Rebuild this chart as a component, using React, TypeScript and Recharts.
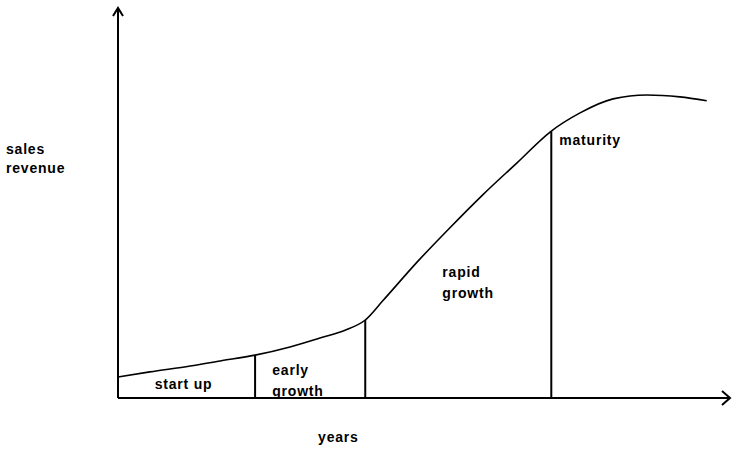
import { ComposedChart, Line, XAxis, YAxis, ReferenceLine, ReferenceDot } from "recharts";

// curve (years on x, revenue on y, both 0..100)
const years = [0, 5.2, 11.8, 16.7, 22.4, 28.1, 33.0, 37.1, 40.4, 43.3, 48.9, 54.2, 59.6, 65.2, 70.6, 75.5, 80.9, 86.4, 91.8, 96.2];
const revenue = [5.4, 6.7, 8.2, 9.5, 11.0, 13.1, 15.4, 17.4, 20.0, 25.0, 34.9, 43.6, 52.1, 60.3, 68.2, 73.1, 76.7, 77.7, 77.2, 76.2];

// stage boundaries (year, revenue where the line meets the curve)
const boundaryYears = [22.4, 40.4, 70.8];
const boundaryRevenue = [11.0, 20.0, 68.4];

// stage labels: text lines and anchor point
const stageLabels = [
  { lines: ["start up"], x: 6.0, y: 2.3 },
  { lines: ["early", "growth"], x: 25.2, y: 5.9 },
  { lines: ["rapid", "growth"], x: 53.0, y: 31.0 },
  { lines: ["maturity"], x: 72.1, y: 65.0 },
];

const data = years.map((y, i) => ({ year: y, revenue: revenue[i] }));

const font = {
  fontFamily: "Liberation Sans, Arial, sans-serif",
  fontWeight: 700,
  fontSize: 14,
  letterSpacing: 0.8,
  fill: "#000",
};

export default function App() {
  return (
    <div style={{ position: "absolute", left: 0, top: 0, background: "#fff" }}>
      <ComposedChart width={732} height={449} data={data} margin={{ top: 8, right: 2, left: 117, bottom: 50 }}>
        <XAxis
          type="number"
          dataKey="year"
          domain={[0, 100]}
          height={1}
          tick={false}
          tickLine={false}
          axisLine={false}
        />
        <YAxis
          type="number"
          domain={[0, 100]}
          width={1}
          tick={false}
          tickLine={false}
          axisLine={false}
        />
        {/* axis lines */}
        <ReferenceLine segment={[{ x: 0, y: 0 }, { x: 100, y: 0 }]} stroke="#000" strokeWidth={2} ifOverflow="visible" />
        <ReferenceLine segment={[{ x: 0, y: 0 }, { x: 0, y: 100 }]} stroke="#000" strokeWidth={2} ifOverflow="visible" />
        {boundaryYears.map((bx, i) => (
          <ReferenceLine
            key={bx}
            segment={[{ x: bx, y: 0 }, { x: bx, y: boundaryRevenue[i] }]}
            stroke="#000"
            strokeWidth={2}
          />
        ))}
        <Line
          type="monotone"
          dataKey="revenue"
          stroke="#000"
          strokeWidth={1.6}
          dot={false}
          isAnimationActive={false}
        />
        {stageLabels.map((s) => (
          <ReferenceDot
            key={s.lines[0]}
            x={s.x}
            y={s.y}
            r={0}
            ifOverflow="visible"
            shape={(p: any) => (
              <text x={p.cx} y={p.cy} {...font}>
                {s.lines.map((l, j) => (
                  <tspan key={l} x={p.cx} dy={j === 0 ? 0 : 21}>
                    {l}
                  </tspan>
                ))}
              </text>
            )}
          />
        ))}
        {/* axis titles */}
        <ReferenceDot
          x={0}
          y={62.5}
          r={0}
          ifOverflow="visible"
          shape={(p: any) => (
            <text x={p.cx - 112} y={p.cy} {...font}>
              <tspan x={p.cx - 112} dy={0}>sales</tspan>
              <tspan x={p.cx - 112} dy={19}>revenue</tspan>
            </text>
          )}
        />
        <ReferenceDot
          x={32.7}
          y={0}
          r={0}
          ifOverflow="visible"
          shape={(p: any) => (
            <text x={p.cx} y={p.cy + 44} {...font}>
              years
            </text>
          )}
        />
        {/* arrow heads on the axes */}
        <ReferenceDot
          x={0}
          y={100}
          r={0}
          ifOverflow="visible"
          shape={(p: any) => (
            <path d={`M${p.cx - 5},${p.cy + 8} L${p.cx},${p.cy} L${p.cx + 5},${p.cy + 8}`} stroke="#000" strokeWidth={2} fill="none" />
          )}
        />
        <ReferenceDot
          x={100}
          y={0}
          r={0}
          ifOverflow="visible"
          shape={(p: any) => (
            <path d={`M${p.cx - 8},${p.cy - 7} L${p.cx},${p.cy} L${p.cx - 8},${p.cy + 7}`} stroke="#000" strokeWidth={2} fill="none" />
          )}
        />
      </ComposedChart>
    </div>
  );
}
